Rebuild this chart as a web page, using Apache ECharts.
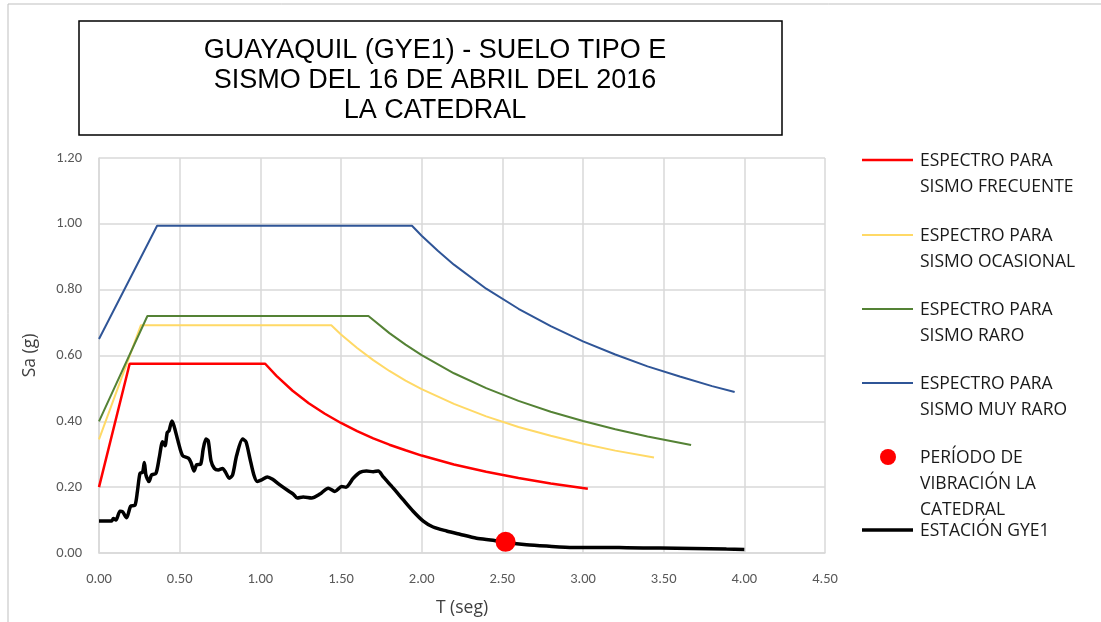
<!DOCTYPE html>
<html>
<head>
<meta charset="utf-8">
<script src="https://cdn.jsdelivr.net/npm/echarts@6/dist/echarts.min.js"></script>
<style>
html,body{margin:0;padding:0;background:#fff;}
#c{width:1101px;height:622px;}
</style>
</head>
<body>
<div id="c"></div>
<script>
// ---- Data (T in seconds, Sa in g) ----
const titleLines = ['GUAYAQUIL (GYE1) - SUELO TIPO E', 'SISMO DEL 16 DE ABRIL DEL 2016', 'LA CATEDRAL'];
const xTicks = {min: 0, max: 4.5, step: 0.5};
const yTicks = {min: 0, max: 1.2, step: 0.2};

const frecuente = [[0,0.20],[0.19,0.575],[1.03,0.575],[1.1,0.538],[1.2,0.493],[1.3,0.455],[1.4,0.423],[1.5,0.395],[1.6,0.370],[1.7,0.348],[1.8,0.329],[1.9,0.312],[2.0,0.296],[2.2,0.269],[2.4,0.247],[2.6,0.228],[2.8,0.211],[3.03,0.195]];
const ocasional = [[0,0.345],[0.26,0.692],[1.44,0.692],[1.5,0.664],[1.6,0.623],[1.7,0.586],[1.8,0.553],[1.9,0.524],[2.0,0.498],[2.2,0.453],[2.4,0.415],[2.6,0.383],[2.8,0.356],[3.0,0.332],[3.2,0.311],[3.44,0.290]];
const raro = [[0,0.40],[0.30,0.72],[1.67,0.72],[1.8,0.668],[1.9,0.633],[2.0,0.601],[2.2,0.546],[2.4,0.501],[2.6,0.462],[2.8,0.429],[3.0,0.401],[3.2,0.376],[3.4,0.354],[3.67,0.328]];
const muyRaro = [[0,0.65],[0.36,0.994],[1.94,0.994],[2.0,0.964],[2.1,0.918],[2.2,0.876],[2.4,0.803],[2.6,0.742],[2.8,0.689],[3.0,0.643],[3.2,0.603],[3.4,0.567],[3.6,0.536],[3.8,0.507],[3.94,0.489]];
const periodo = [[2.52,0.034]];
const gye1 = [[0,0.097],[0.078,0.097],[0.089,0.105],[0.105,0.100],[0.13,0.127],[0.146,0.125],[0.171,0.107],[0.196,0.142],[0.223,0.145],[0.238,0.187],[0.254,0.242],[0.27,0.245],[0.281,0.275],[0.291,0.237],[0.31,0.217],[0.326,0.237],[0.353,0.242],[0.374,0.291],[0.394,0.338],[0.409,0.326],[0.423,0.366],[0.434,0.371],[0.452,0.401],[0.465,0.386],[0.492,0.336],[0.518,0.296],[0.554,0.288],[0.57,0.275],[0.589,0.249],[0.605,0.268],[0.63,0.270],[0.646,0.316],[0.663,0.346],[0.677,0.341],[0.694,0.281],[0.715,0.257],[0.739,0.252],[0.766,0.257],[0.785,0.245],[0.807,0.227],[0.828,0.237],[0.853,0.296],[0.89,0.346],[0.911,0.338],[0.936,0.286],[0.96,0.237],[0.981,0.217],[1.008,0.222],[1.043,0.231],[1.076,0.224],[1.121,0.207],[1.173,0.189],[1.204,0.179],[1.229,0.167],[1.266,0.170],[1.318,0.167],[1.369,0.179],[1.421,0.197],[1.462,0.187],[1.504,0.202],[1.531,0.200],[1.576,0.227],[1.617,0.245],[1.658,0.249],[1.70,0.247],[1.731,0.249],[1.762,0.231],[1.824,0.197],[1.885,0.162],[1.947,0.127],[2.01,0.097],[2.071,0.079],[2.154,0.067],[2.237,0.057],[2.34,0.045],[2.443,0.039],[2.526,0.032],[2.65,0.025],[2.774,0.021],[2.939,0.017],[3.146,0.017],[3.27,0.016],[3.476,0.015],[3.682,0.014],[3.889,0.012],[4.0,0.011]];

const names = {
  frecuente: 'ESPECTRO PARA\nSISMO FRECUENTE',
  ocasional: 'ESPECTRO PARA\nSISMO OCASIONAL',
  raro: 'ESPECTRO PARA\nSISMO RARO',
  muyRaro: 'ESPECTRO PARA\nSISMO MUY RARO',
  periodo: 'PERÍODO DE\nVIBRACIÓN LA\nCATEDRAL',
  gye1: 'ESTACIÓN GYE1'
};

const FONT = 'Carlito, Lato, "Liberation Sans", sans-serif';
const LFONT = '"Open Sans", "Noto Sans", sans-serif';
const TFONT = '"Liberation Sans", Arial, sans-serif';

const chart = echarts.init(document.getElementById('c'), null, {renderer: 'canvas'});

function legendEntry(y, kind, color, width, text) {
  const els = [];
  if (kind === 'line') {
    els.push({type: 'line', shape: {x1: 862, y1: y, x2: 913, y2: y}, style: {stroke: color, lineWidth: width}});
  } else {
    els.push({type: 'circle', shape: {cx: 888, cy: y, r: 8}, style: {fill: color}});
  }
  els.push({type: 'text', x: 920, y: y - 12, style: {text: text, font: '17.5px ' + LFONT, fill: '#1a1a1a', verticalAlign: 'top', lineHeight: 26}});
  return els;
}

const legendEls = [].concat(
  legendEntry(160, 'line', '#ff0000', 2.5, names.frecuente),
  legendEntry(235, 'line', '#ffd966', 2, names.ocasional),
  legendEntry(309, 'line', '#548235', 2, names.raro),
  legendEntry(383, 'line', '#2f5597', 2, names.muyRaro),
  legendEntry(457, 'dot', '#ff0000', 0, names.periodo),
  legendEntry(530, 'line', '#000000', 3.5, names.gye1)
);

const option = {
  backgroundColor: '#ffffff',
  animation: false,
  grid: {left: 99, right: 276, top: 158, bottom: 63, containLabel: false},
  xAxis: {
    type: 'value', min: xTicks.min, max: xTicks.max, interval: xTicks.step,
    name: 'T (seg)', nameLocation: 'middle', nameGap: 46,
    nameTextStyle: {fontFamily: LFONT, fontSize: 17.5, color: '#404040'},
    axisLine: {show: true, lineStyle: {color: '#d9d9d9', width: 1.5}},
    axisTick: {show: false},
    axisLabel: {margin: 19, fontFamily: FONT, fontSize: 14.5, color: '#595959', formatter: v => v.toFixed(2)},
    splitLine: {show: true, lineStyle: {color: '#d9d9d9', width: 1.5}}
  },
  yAxis: {
    type: 'value', min: yTicks.min, max: yTicks.max, interval: yTicks.step,
    name: 'Sa (g)', nameLocation: 'middle', nameGap: 60, nameRotate: 90,
    nameTextStyle: {fontFamily: LFONT, fontSize: 17.5, color: '#404040'},
    axisLine: {show: true, lineStyle: {color: '#d9d9d9', width: 1.5}},
    axisTick: {show: false},
    axisLabel: {margin: 17, fontFamily: FONT, fontSize: 14.5, color: '#595959', formatter: v => v.toFixed(2)},
    splitLine: {show: true, lineStyle: {color: '#d9d9d9', width: 1.5}}
  },
  title: {
    text: titleLines.join('\n'),
    left: 430, top: 31, textAlign: 'center',
    textStyle: {fontFamily: TFONT, fontSize: 27, fontWeight: 'normal', color: '#000', lineHeight: 30}
  },
  graphic: [
    {type: 'polyline', shape: {points: [[8, 700], [8, 4], [1200, 4]]}, style: {stroke: '#bfbfbf', lineWidth: 1, fill: null}, silent: true},
    {type: 'rect', shape: {x: 79, y: 21, width: 703, height: 114}, style: {stroke: '#000', lineWidth: 1.5, fill: null}, silent: true}
  ].concat(legendEls),
  series: [
    {name: names.frecuente, type: 'line', data: frecuente, showSymbol: false, lineStyle: {color: '#ff0000', width: 2.5}, z: 3},
    {name: names.ocasional, type: 'line', data: ocasional, showSymbol: false, lineStyle: {color: '#ffd966', width: 2}, z: 2},
    {name: names.raro, type: 'line', data: raro, showSymbol: false, lineStyle: {color: '#548235', width: 2}, z: 2},
    {name: names.muyRaro, type: 'line', data: muyRaro, showSymbol: false, lineStyle: {color: '#2f5597', width: 2}, z: 2},
    {name: names.gye1, type: 'line', data: gye1, showSymbol: false, smooth: 0.25, lineStyle: {color: '#000000', width: 3.5}, z: 4},
    {name: names.periodo, type: 'scatter', data: periodo, symbol: 'circle', symbolSize: 20, itemStyle: {color: '#ff0000', opacity: 1}, z: 5}
  ]
};
chart.setOption(option);
</script>
</body>
</html>
